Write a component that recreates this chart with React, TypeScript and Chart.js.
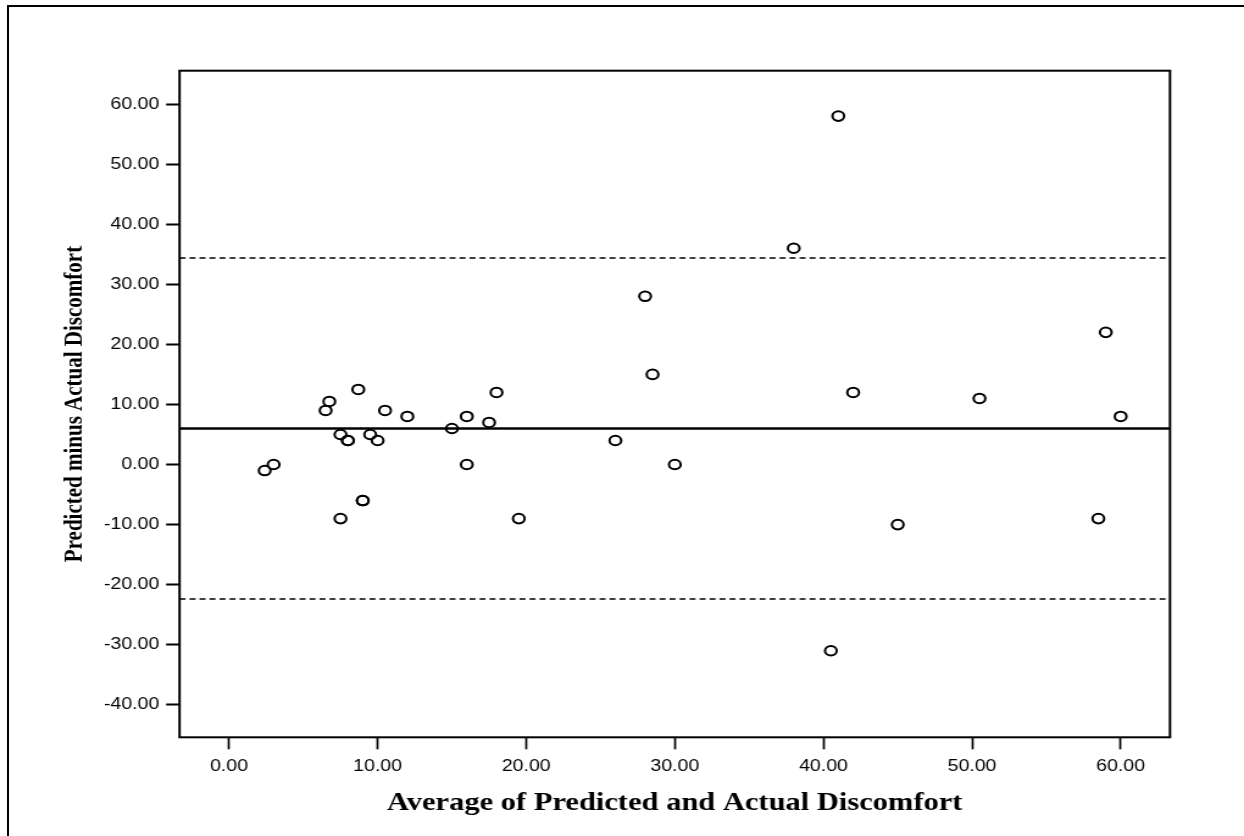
import React, { useEffect, useRef } from "react";
import { Chart, registerables } from "chart.js";

Chart.register(...registerables);

// ---- data ----
const averages = [
  2.4, 3, 6.5, 6.75, 8.7, 7.5, 8, 8, 9.5, 10, 10.5, 12, 9, 9, 7.5,
  28, 28.5, 18, 16, 17.5, 15, 26, 16, 30, 19.5,
  41, 38, 42,
  40.5, 45, 50.5, 58.5, 59, 60,
];
const differences = [
  -1, 0, 9, 10.5, 12.5, 5, 4, 4, 5, 4, 9, 8, -6, -6, -9,
  28, 15, 12, 8, 7, 6, 4, 0, 0, -9,
  58, 36, 12,
  -31, -10, 11, -9, 22, 8,
];
const meanDifference = 6.0;
const upperLimit = 34.4;
const lowerLimit = -22.4;

const xTickValues = [0, 10, 20, 30, 40, 50, 60];
const yTickValues = [-40, -30, -20, -10, 0, 10, 20, 30, 40, 50, 60];
const xRange = [-3.33, 63.32];
const yRange = [-45.41, 65.56];

const xTitle = "Average of Predicted and Actual Discomfort";
const yTitle = "Predicted minus Actual Discomfort";

// ---- layout (design units, canvas is stretched horizontally) ----
const DESIGN_W = 1020;
const DESIGN_H = 836;
const STRETCH = 1244 / DESIGN_W;

const sansFont = '"Liberation Sans", Arial, sans-serif';
const serifFont = '"Liberation Serif", "Times New Roman", serif';

const framePlugin = {
  id: "plotFrame",
  afterDatasetsDraw(chart: any) {
    const { ctx, chartArea: a } = chart;
    ctx.save();
    ctx.strokeStyle = "#000";
    ctx.lineWidth = 2;
    ctx.strokeRect(a.left, a.top, a.right - a.left, a.bottom - a.top);
    ctx.restore();
  },
};

function refLine(y: number, width: number, dash: number[]) {
  return {
    type: "scatter" as const,
    data: [
      { x: xRange[0], y },
      { x: xRange[1], y },
    ],
    showLine: true,
    borderColor: "#000",
    borderWidth: width,
    borderDash: dash,
    pointRadius: 0,
    pointHoverRadius: 0,
    fill: false,
  };
}

export default function App() {
  const canvasRef = useRef<HTMLCanvasElement | null>(null);

  useEffect(() => {
    const canvas = canvasRef.current;
    if (!canvas) return;
    const points = averages.map((x, i) => ({ x, y: differences[i] }));
    const chart = new Chart(canvas, {
      type: "scatter",
      data: {
        datasets: [
          refLine(meanDifference, 2.7, []),
          refLine(upperLimit, 1.5, [4.9, 3.3]),
          refLine(lowerLimit, 1.5, [4.9, 3.3]),
          {
            type: "scatter",
            data: points,
            pointStyle: "circle",
            pointRadius: 4.8,
            pointHoverRadius: 4.8,
            pointBorderWidth: 2,
            pointBorderColor: "#000",
            pointBackgroundColor: "rgba(0,0,0,0)",
            showLine: false,
          } as any,
        ],
      },
      options: {
        responsive: false,
        animation: false,
        devicePixelRatio: 1,
        events: [],
        layout: {
          padding: { left: 0, right: DESIGN_W - 959.3, top: 70.7, bottom: 0 },
        },
        plugins: {
          legend: { display: false },
          tooltip: { enabled: false },
        },
        scales: {
          x: {
            type: "linear",
            min: xRange[0],
            max: xRange[1],
            afterBuildTicks: (s: any) => {
              s.ticks = xTickValues.map((v) => ({ value: v }));
            },
            afterFit: (s: any) => {
              s.height = DESIGN_H - 737.3;
            },
            border: { display: false },
            grid: {
              display: true,
              drawOnChartArea: false,
              drawTicks: true,
              tickLength: 12,
              tickWidth: 1.7,
              tickColor: "#000",
              color: "#000",
            },
            ticks: {
              color: "#000",
              font: { family: sansFont, size: 16 },
              padding: 7.6,
              autoSkip: false,
              maxRotation: 0,
              callback: (v: any) => Number(v).toFixed(2),
            },
            title: {
              display: true,
              text: xTitle,
              color: "#000",
              font: { family: serifFont, size: 25, weight: "bold" },
              padding: { top: 0, bottom: 17.5 },
            },
          },
          y: {
            type: "linear",
            min: yRange[0],
            max: yRange[1],
            afterBuildTicks: (s: any) => {
              s.ticks = yTickValues.map((v) => ({ value: v }));
            },
            afterFit: (s: any) => {
              s.width = 147.2;
            },
            border: { display: false },
            grid: {
              display: true,
              drawOnChartArea: false,
              drawTicks: true,
              tickLength: 11,
              tickWidth: 2,
              tickColor: "#000",
              color: "#000",
            },
            ticks: {
              color: "#000",
              font: { family: sansFont, size: 16 },
              padding: 5.6,
              autoSkip: false,
              callback: (v: any) => Number(v).toFixed(2),
            },
            title: {
              display: true,
              text: yTitle,
              color: "#000",
              font: { family: serifFont, size: 21, weight: "bold" },
              padding: { top: 48.9, bottom: 0 },
            },
          },
        },
      } as any,
      plugins: [framePlugin],
    });
    return () => chart.destroy();
  }, []);

  return (
    <>
      <div
        style={{
          position: "absolute",
          left: 7,
          top: 5,
          width: 1237,
          height: 831,
          boxSizing: "border-box",
          borderLeft: "2px solid #000",
          borderTop: "2px solid #000",
        }}
      />
      <div
        style={{
          position: "absolute",
          left: 0,
          top: 0,
          width: DESIGN_W,
          height: DESIGN_H,
          transform: `scaleX(${STRETCH})`,
          transformOrigin: "0 0",
        }}
      >
        <canvas
          ref={canvasRef}
          width={DESIGN_W}
          height={DESIGN_H}
          style={{ width: DESIGN_W, height: DESIGN_H, display: "block" }}
        />
      </div>
    </>
  );
}
